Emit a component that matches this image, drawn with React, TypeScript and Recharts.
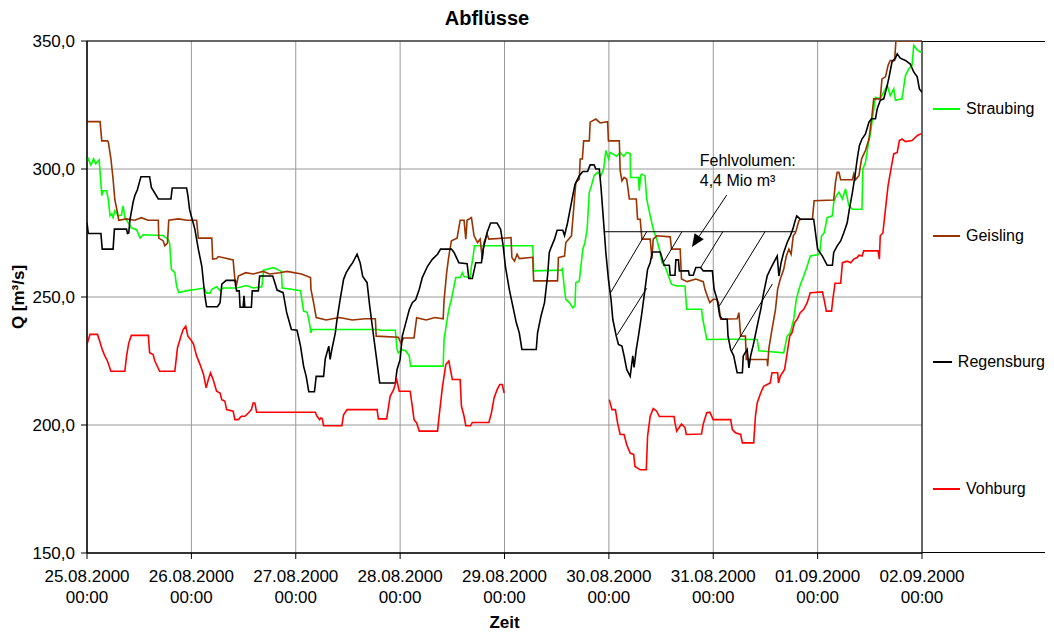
import {
  LineChart,
  Line,
  XAxis,
  YAxis,
  CartesianGrid,
  Legend,
  ReferenceLine,
  ReferenceArea,
  ReferenceDot,
} from "recharts";

const FONT = "'Liberation Sans', Arial, sans-serif";

// hours since 25.08.2000 00:00, discharge in m³/s
const straubing: [number, number][] = [
  [0, 303], [0.3, 304], [0.9, 301.5], [1.5, 304], [2.0, 302], [2.8, 303.5], [3.4, 289.6], [3.7, 291.5], [4.5, 291.5],
  [4.9, 288], [5.3, 281.7], [5.7, 282.5], [6.0, 281], [6.4, 283.7], [7.2, 281.7], [7.9, 282], [8.3, 285.6], [8.7, 281],
  [9.5, 279], [10.2, 277], [11.4, 276.3], [12.2, 273], [12.9, 274.3], [17.5, 274], [18.7, 272.5], [19.0, 271],
  [19.4, 260.8], [20.2, 259.5], [20.6, 254.3], [21.1, 251.7], [23, 252.5], [25.2, 253], [27.0, 253.5], [27.5, 251.5],
  [28.3, 251.5], [28.7, 253], [29.8, 254], [30.6, 252.5], [31.3, 253.5], [34.4, 253.5], [36.7, 254.5], [38.2, 253.5],
  [40.2, 254], [40.6, 260.5], [42.9, 261.5], [44.7, 260], [44.9, 253.5], [47, 253], [49.1, 252.5], [49.4, 249.1],
  [49.8, 244.5], [50.6, 244], [51.0, 241.3], [51.5, 236], [51.7, 237.3], [67.0, 237.3], [67.4, 237], [70.9, 237],
  [71.3, 229.5], [71.6, 228.2], [72.4, 229.5], [73.3, 228.9], [74.1, 227], [74.4, 223], [81.9, 223], [82.1, 233.4],
  [82.7, 240], [83.2, 245.2], [83.8, 249.1], [84.4, 254.3], [84.8, 257.6], [85.9, 257.6], [86.3, 259.5], [86.7, 258],
  [88.1, 257.6], [88.4, 262], [88.8, 266], [89.1, 270], [102.5, 270], [102.7, 260.2], [109.0, 260.5], [109.3, 261],
  [109.8, 253], [110.1, 249.1], [110.9, 247.8], [111.7, 245.8], [112.2, 246.5], [112.4, 255.6], [113.2, 256.3],
  [114.0, 268.7], [114.5, 271.3], [115.0, 276.5], [115.5, 290.9], [116.0, 293.5], [116.6, 297.4], [117.4, 298.7],
  [118.2, 297.4], [118.8, 300], [119.3, 307.2], [119.9, 304], [120.3, 306.5], [121.8, 305], [122.6, 306.5],
  [123.4, 305], [124.1, 306.5], [124.9, 306], [125.0, 296.7], [126.8, 296.7], [127.0, 291.5], [127.3, 297.5],
  [127.6, 298], [128.3, 297.4], [128.7, 288.3], [129.5, 281.7], [130.2, 276.5], [131.0, 272.6], [131.8, 267.4],
  [132.2, 263.4], [132.9, 262], [134.4, 255], [135.6, 254.3], [137.5, 254.3], [137.9, 245.2], [141.3, 245.2],
  [141.6, 241.3], [142.5, 233.4], [148, 233.5], [154.1, 233.4], [154.5, 229], [160.2, 228.2], [161.0, 234.7],
  [161.7, 236], [162.5, 241.3], [163.1, 249.1], [163.7, 253], [164.2, 255.6], [164.8, 258.2], [165.6, 262],
  [166.3, 266], [168.0, 266.5], [168.5, 267.4], [168.9, 273.9], [169.5, 275], [170.2, 281], [171.4, 281.7],
  [171.7, 286.9], [172.3, 289.6], [172.9, 290.9], [173.7, 288.3], [174.4, 292.2], [175.2, 285.6], [176.0, 284.3],
  [178.2, 284.3], [178.4, 300], [179.0, 302.6], [179.6, 309.1], [180.2, 314.4], [180.7, 320.9], [181.3, 328],
  [182.4, 327.4], [183.2, 330], [184.0, 332.6], [184.7, 328.7], [185.5, 331.3], [185.9, 326.8], [187.4, 327.4],
  [188.2, 336.6], [189.0, 339.2], [189.7, 340.5], [190.1, 348.3], [190.9, 346.5], [191.6, 345.7], [192, 346],
];

const geisling: [number, number][] = [
  [0, 318.5], [3.0, 318.5], [3.4, 311], [4.7, 311], [4.9, 310.5], [5.5, 304], [6.0, 296], [6.4, 288], [7.0, 283],
  [7.3, 280], [9, 280.5], [11, 280], [12.5, 281], [14, 280], [16.4, 280], [16.5, 273], [17.5, 272], [17.9, 270],
  [18.5, 271], [18.8, 280], [21, 280.5], [23, 280], [25.2, 280], [25.6, 273], [28.7, 273], [28.9, 264.8], [29.8, 265],
  [30.2, 265.8], [33.6, 264.5], [34.0, 257], [34.4, 255], [34.8, 258.2], [36.5, 259.5], [38.2, 259], [40.5, 260],
  [42, 259], [44.3, 259.5], [46, 260], [49.3, 259], [51.4, 257.6], [51.5, 253], [52.1, 247.8], [52.7, 242], [55, 241],
  [58, 242], [61, 241], [64, 241.5], [66.3, 241.5], [66.5, 234.7], [71.6, 234.3], [72.2, 232], [72.8, 234],
  [75.2, 234], [75.8, 241.9], [78, 241], [80, 242], [81.9, 241.5], [82.1, 248.7], [82.7, 259.5], [83.2, 266],
  [83.8, 272], [85.1, 273], [85.8, 280], [86.7, 280], [87.1, 272.6], [87.4, 280], [88.4, 281], [89.0, 273.9],
  [89.8, 271.3], [90.4, 272.6], [90.9, 264.8], [91.3, 271.3], [92.0, 274.5], [92.4, 272.6], [97.5, 273.2],
  [97.7, 265.4], [98.3, 264], [98.9, 266.7], [99.4, 265], [102.5, 265.5], [102.7, 256.3], [108.2, 256.3],
  [108.4, 265.4], [109.8, 266], [110.1, 271.3], [111.4, 273.9], [111.9, 284.3], [112.4, 294.8], [113.2, 296],
  [113.4, 303.9], [113.9, 303.9], [114.2, 311], [115.5, 311], [115.7, 318.3], [117, 319.5], [118, 318],
  [119.7, 318.5], [119.9, 311], [122.4, 311], [122.6, 299.3], [123.0, 295.4], [123.5, 296.7], [124.1, 296],
  [124.7, 288.3], [126.3, 288.3], [126.6, 280.4], [127.2, 280.4], [127.6, 272.6], [129.5, 272.6], [129.9, 265],
  [130.2, 272.6], [131.0, 273.9], [134.1, 273.5], [134.4, 268.7], [136.4, 268.7], [136.7, 257], [138, 256],
  [140, 257], [141.7, 256], [142.1, 253], [142.9, 249.1], [143.2, 247.8], [144.0, 249.1], [144.8, 249.1],
  [145.2, 247.8], [145.7, 241.3], [149.5, 241.5], [149.9, 243.9], [150.3, 234.7], [151.4, 234.7], [151.6, 225.6],
  [156.4, 225.6], [156.5, 223], [156.8, 230], [157.5, 237.3], [158.3, 245], [158.8, 253], [159.4, 256.9],
  [160.2, 260.8], [160.8, 266], [161.4, 268.7], [161.9, 266.7], [162.4, 273.9], [162.9, 275], [163.7, 279.8],
  [164.1, 280.4], [166.8, 280.4], [167.2, 287.6], [171.7, 287.9], [172.1, 294.8], [172.5, 298.7], [172.9, 298.7],
  [173.3, 295.8], [176.0, 295.8], [176.3, 298], [176.7, 295.8], [177.5, 297.4], [178.1, 303.9], [178.4, 305],
  [179.0, 307.2], [179.8, 311.7], [180.5, 320.9], [180.9, 327.4], [182.4, 327.4], [182.8, 335.2], [183.6, 336],
  [184.2, 340.5], [184.7, 342.4], [185.7, 342.4], [186.0, 350], [192, 350],
];

const regensburg: [number, number][] = [
  [0, 279], [0.3, 274.8], [3.2, 274.8], [3.5, 268.7], [6.0, 268.7], [6.3, 276.5], [9.1, 276.5], [9.3, 274.8],
  [9.6, 275], [9.9, 280.4], [10.6, 287], [11.0, 289.6], [11.6, 292], [12.4, 297], [14.4, 297], [14.8, 292.8],
  [16.4, 288.3], [19.3, 288.3], [19.6, 292.6], [22.9, 292.6], [23.2, 289.6], [23.6, 284], [24.4, 279], [24.8, 276.5],
  [25.6, 268.7], [26.4, 262], [27.1, 250.4], [27.5, 246.2], [30.0, 246.2], [30.6, 247.8], [31.0, 255], [32.0, 256.5],
  [34.0, 256.5], [34.4, 252.4], [35.0, 252.4], [35.2, 246], [35.9, 246], [36.1, 250.5], [36.3, 246], [37.8, 246],
  [38.0, 252.4], [39.4, 252.4], [39.7, 258.2], [42.7, 258.2], [43.2, 255.6], [43.7, 252.7], [45.1, 251.7],
  [45.9, 244], [47.0, 237.3], [48.3, 237], [49.1, 230.8], [49.8, 223], [50.4, 219], [51.0, 213], [52.3, 213],
  [52.7, 219], [54.4, 219], [54.8, 226], [55.6, 230.8], [55.9, 225.6], [56.3, 229.5], [57.1, 236], [57.5, 241.3],
  [58.2, 249], [59.0, 256.9], [59.6, 259.5], [60.5, 262], [61.1, 263.4], [62.1, 266.7], [62.8, 263.4], [63.4, 258],
  [64.4, 255.6], [65.0, 246.5], [65.7, 237.3], [66.3, 229.5], [66.8, 223], [67.3, 216.4], [70.9, 216.4],
  [71.3, 221.7], [72.0, 225.6], [72.5, 234.7], [73.3, 239.9], [74.1, 245], [74.8, 247.8], [75.6, 249], [76.4, 253],
  [77.1, 257.6], [78.3, 262], [79.4, 264.7], [80.6, 266.7], [81.3, 268.7], [83.8, 268.7], [84.4, 267.4],
  [85.5, 263.4], [87.4, 263], [87.8, 257.2], [88.6, 257.2], [89.4, 263.4], [90.7, 263.4], [91.1, 268.7],
  [92.0, 275.2], [92.8, 278.9], [94.3, 278.9], [95.1, 276.5], [95.7, 270], [96.2, 262], [97.1, 253], [97.9, 246.5],
  [98.7, 240], [99.4, 236], [100.0, 229.5], [103.3, 229.5], [103.6, 236], [104.4, 242.6], [105.2, 247.8],
  [105.9, 258.2], [106.3, 267.4], [106.7, 269.3], [107.5, 272.6], [108.1, 276.1], [109.4, 276.1], [109.8, 274],
  [110.5, 279], [111.1, 284.3], [111.7, 289.6], [112.2, 293.9], [113.2, 297.4], [114.0, 299], [115.1, 299],
  [115.7, 301.6], [116.6, 301.6], [117.0, 300], [117.8, 300], [118.2, 292.6], [118.8, 279], [119.3, 267.4],
  [119.9, 256.9], [120.5, 249], [120.9, 241.3], [121.7, 234.7], [122.2, 231.5], [123.0, 230.8], [123.5, 227],
  [124.1, 221.7], [124.9, 219], [125.5, 227], [125.8, 222.5], [126.3, 229.5], [126.8, 234.7], [127.6, 243.9],
  [128.3, 253], [128.9, 260.8], [129.5, 263.4], [130.0, 267.6], [131.8, 267.6], [132.2, 265.4], [132.7, 262.4],
  [133.9, 262.4], [134.1, 258.5], [135.2, 258.5], [135.4, 264.5], [136.0, 264.5], [136.2, 260.2], [138.3, 260.2],
  [138.5, 258.5], [139.4, 258.5], [140.0, 261.5], [141.1, 261.5], [141.7, 260.2], [143.8, 260.2], [144.2, 253],
  [144.9, 249], [145.5, 242.6], [146.1, 241.3], [147.2, 241.3], [147.4, 234.7], [148.0, 229.5], [148.7, 227],
  [149.5, 220.4], [150.7, 220.4], [150.9, 227], [151.8, 229.5], [152.2, 222.3], [152.6, 227], [153.3, 232],
  [154.1, 238.6], [154.9, 245], [155.6, 251.7], [156.4, 258.2], [157.1, 260.8], [157.9, 263.4], [158.7, 266],
  [159.1, 258.2], [159.6, 263.4], [160.2, 267.4], [161.0, 271.3], [161.7, 273.9], [162.3, 276.5], [162.7, 279],
  [163.2, 281.7], [164.0, 280.4], [167.1, 280.4], [167.4, 276.5], [168.0, 268.7], [169.1, 266], [170.2, 262.4],
  [171.4, 262.4], [171.7, 267.4], [172.5, 270], [173.3, 271.9], [174.0, 275], [174.8, 279], [175.3, 284.3],
  [176.0, 290.9], [176.6, 297.4], [177.1, 303.9], [177.6, 309.1], [178.2, 311.7], [179.0, 313.7], [179.8, 318.3],
  [180.4, 319.6], [181.3, 319.6], [181.7, 323.5], [182.4, 326.8], [183.2, 327.4], [184.0, 332.6], [184.5, 336.6],
  [185.1, 341.8], [185.9, 343.3], [186.3, 345], [187.0, 343.3], [188.2, 342.4], [189.3, 341], [190.1, 337.9],
  [190.9, 336], [191.4, 331.3], [192, 330],
];

// null = no measurements (gap between 29.08 and 30.08)
const vohburg: [number, number | null][] = [
  [0, 231.5], [0.7, 235.4], [2.4, 235.4], [3.0, 232.3], [3.5, 229.5], [4.1, 227], [4.7, 225], [5.5, 221], [8.7, 221],
  [9.1, 227], [9.6, 232], [10.2, 235], [14.1, 235], [14.4, 228.2], [15.2, 227.5], [15.6, 225], [16.7, 221],
  [20.2, 221], [20.8, 230.1], [21.6, 234.7], [22.1, 237.3], [22.7, 238.6], [23.2, 234.7], [24.0, 233], [24.5, 231.5],
  [25.2, 227], [26.0, 223.6], [26.8, 219.7], [27.4, 214.5], [27.9, 217.8], [28.4, 220.4], [29.0, 217.8],
  [29.8, 213.2], [30.6, 212.5], [31.0, 209.9], [31.7, 209.3], [32.1, 206], [33.6, 205.4], [34.0, 202.1],
  [34.8, 202.1], [35.5, 203.4], [36.3, 203.4], [37.1, 204.7], [37.8, 206], [38.2, 208.6], [38.6, 208.6], [39.0, 205],
  [52.5, 205], [52.9, 203.4], [53.5, 202.1], [53.8, 202.8], [54.1, 202.4], [54.4, 199.7], [58.6, 199.7], [59.0, 204],
  [59.8, 206], [66.7, 206], [67.0, 202.4], [68.9, 202.4], [69.7, 211.2], [70.5, 213.8], [71.2, 217.8], [71.8, 213.2],
  [74.3, 213.2], [74.8, 207.3], [75.2, 202.1], [75.8, 200.8], [76.4, 197.6], [80.6, 197.6], [81.0, 204],
  [81.7, 214.5], [82.5, 223.6], [83.2, 225], [84.0, 217.8], [85.8, 217.8], [86.1, 207.3], [86.7, 203.4],
  [87.1, 199.7], [88.2, 199.7], [88.6, 201], [92.4, 201], [93.0, 204.8], [93.6, 210.6], [94.3, 213.8],
  [94.9, 215.8], [95.5, 215.8], [95.9, 212.5], [96.5, null], [120.1, 209.9], [120.7, 206], [121.5, 206],
  [122.0, 200.8], [122.6, 196.3], [123.5, 196.3], [124.1, 192.3], [124.9, 189], [125.7, 188.5], [126.0, 183.8],
  [127.2, 182.5], [128.6, 182.5], [128.9, 195.6], [129.5, 203.4], [130.2, 206.4], [131.0, 205.4], [131.6, 203.3],
  [135.0, 203.3], [135.2, 200.8], [135.6, 197.6], [136.7, 200.4], [137.5, 199], [137.8, 196.3], [141.3, 196.5],
  [141.7, 200.4], [142.5, 204.8], [143.2, 205], [144.0, 202.1], [148.0, 202.1], [148.4, 198.2], [149.1, 197],
  [150.3, 196.3], [150.7, 193], [153.3, 193], [153.7, 203.4], [154.1, 208.6], [154.9, 212.5], [155.6, 215.1],
  [156.4, 215.8], [157.1, 216.4], [157.5, 220.4], [158.8, 220.4], [159.0, 216.4], [159.4, 219], [160.4, 221.7],
  [161.0, 228.2], [161.6, 234.7], [162.1, 236], [162.7, 240], [163.3, 241.3], [164.0, 243.9], [164.8, 245.2],
  [165.6, 247.8], [166.3, 251.7], [169.1, 252], [169.5, 249], [170.0, 244.5], [171.2, 244.5], [171.5, 249.1],
  [172.0, 255.4], [173.3, 255.4], [173.7, 263.4], [174.8, 264], [175.6, 263.4], [176.3, 264.8], [177.1, 265.4],
  [177.5, 266.3], [178.2, 266], [178.6, 268], [181.9, 268], [182.2, 264.8], [182.4, 273.9], [183.0, 275],
  [183.6, 284.3], [184.2, 293.5], [185.0, 301.3], [185.5, 305.9], [186.3, 306.5], [186.8, 311.1], [187.4, 311.7],
  [188.2, 310.7], [189.7, 311.1], [190.9, 313], [191.6, 313.7], [192, 313.7],
];

const series = [
  { name: "Straubing", color: "#00FF00", values: straubing },
  { name: "Geisling", color: "#993300", values: geisling },
  { name: "Regensburg", color: "#000000", values: regensburg },
  { name: "Vohburg", color: "#FF0000", values: vohburg },
];

const xTicks = [0, 24, 48, 72, 96, 120, 144, 168, 192];
const dateLabels = [
  "25.08.2000", "26.08.2000", "27.08.2000", "28.08.2000", "29.08.2000",
  "30.08.2000", "31.08.2000", "01.09.2000", "02.09.2000",
];
const timeLabel = "00:00";
const yTicks = [150, 200, 250, 300, 350];

// "Fehlvolumen" annotation (hours / m³/s)
const fillLevel = 275.5;
const fillSpan = [119.1, 162.8];
const hatchLines = [
  [128.7, 275.5, 120.4, 251.7],
  [136.8, 275.5, 132.6, 263.7],
  [128.7, 253.4, 121.9, 235.2],
  [146.2, 275.5, 141.1, 261.5],
  [155.9, 275.5, 145.4, 246.5],
  [157.6, 255.1, 148.2, 228.9],
];
const arrow = [147.1, 289.8, 139.1, 269.5];
const noteAt = [140.9, 301];
const noteLines = ["Fehlvolumen:", "4,4 Mio m³"];

const toRows = (vals: [number, number | null][]) => vals.map(([t, v]) => ({ t, v }));

const fmtY = (v: number) => v.toFixed(1).replace(".", ",");

function DateTick(props: any) {
  const { x, y, payload } = props;
  const i = Math.round(payload.value / 24);
  return (
    <text x={x} y={y} textAnchor="middle" fontSize={17} fontFamily={FONT} fill="#000">
      <tspan x={x} dy={21}>{dateLabels[i]}</tspan>
      <tspan x={x} dy={21}>{timeLabel}</tspan>
    </text>
  );
}

function ArrowShape(props: any) {
  const { x1, y1, x2, y2 } = props;
  const len = Math.hypot(x2 - x1, y2 - y1) || 1;
  const ux = (x2 - x1) / len;
  const uy = (y2 - y1) / len;
  const bx = x2 - ux * 13;
  const by = y2 - uy * 13;
  const px = -uy * 5.5;
  const py = ux * 5.5;
  return (
    <g>
      <line x1={x1} y1={y1} x2={bx} y2={by} stroke="#000" strokeWidth={1} />
      <polygon points={`${x2},${y2} ${bx + px},${by + py} ${bx - px},${by - py}`} fill="#000" />
    </g>
  );
}

function NoteShape(props: any) {
  const { cx, cy } = props;
  return (
    <text x={cx} y={cy} fontSize={16} fontFamily={FONT} fill="#000">
      <tspan x={cx} dy={0}>{noteLines[0]}</tspan>
      <tspan x={cx} dy={20}>{noteLines[1]}</tspan>
    </text>
  );
}

function LegendBox() {
  return (
    <div
      style={{
        width: 123,
        height: 512,
        boxSizing: "border-box",
        borderTop: "1px solid #000",
        borderBottom: "1px solid #000",
        paddingTop: 4,
        display: "flex",
        flexDirection: "column",
        justifyContent: "space-around",
        fontFamily: FONT,
        fontSize: 16,
        color: "#000",
      }}
    >
      {series.map((s) => (
        <div key={s.name} style={{ display: "flex", alignItems: "center", height: 20 }}>
          <span style={{ display: "inline-block", width: 27, marginLeft: 11, marginRight: 6, borderTop: `2px solid ${s.color}` }} />
          <span>{s.name}</span>
        </div>
      ))}
    </div>
  );
}

export default function App() {
  return (
    <div style={{ position: "absolute", left: 0, top: 0, width: 1054, height: 633, background: "#fff" }}>
      <div
        style={{
          position: "absolute",
          left: 0,
          top: 6,
          width: 974,
          textAlign: "center",
          fontFamily: FONT,
          fontSize: 20,
          fontWeight: "bold",
          lineHeight: "24px",
        }}
      >
        Abflüsse
      </div>
      <LineChart width={1054} height={633} margin={{ top: 41, right: 132, bottom: 0, left: 0 }}>
        <CartesianGrid stroke="#999" strokeWidth={1} />
        <XAxis
          type="number"
          dataKey="t"
          domain={[0, 192]}
          ticks={xTicks}
          allowDataOverflow
          height={80}
          tick={<DateTick />}
          tickSize={6}
          tickMargin={2}
          stroke="#000"
          interval={0}
          label={() => (
            <text x={504.5} y={628} textAnchor="middle" fontSize={17} fontWeight="bold" fontFamily={FONT} fill="#000">
              Zeit
            </text>
          )}
        />
        <YAxis
          type="number"
          domain={[150, 350]}
          ticks={yTicks}
          allowDataOverflow
          width={87}
          tickFormatter={fmtY}
          tick={{ fontSize: 17, fontFamily: FONT, fill: "#000" }}
          tickSize={6}
          tickMargin={6}
          stroke="#000"
          interval={0}
          label={() => (
            <text
              x={24}
              y={297}
              transform="rotate(-90 24 297)"
              textAnchor="middle"
              fontSize={17}
              fontWeight="bold"
              fontFamily={FONT}
              fill="#000"
            >
              Q [m³/s]
            </text>
          )}
        />
        {series.map((s) => (
          <Line
            key={s.name}
            data={toRows(s.values)}
            dataKey="v"
            name={s.name}
            type="linear"
            stroke={s.color}
            strokeWidth={1.6}
            dot={false}
            activeDot={false}
            connectNulls={false}
            isAnimationActive={false}
          />
        ))}
        <ReferenceLine
          segment={[{ x: fillSpan[0], y: fillLevel }, { x: fillSpan[1], y: fillLevel }]}
          stroke="#000"
          strokeWidth={1}
        />
        {hatchLines.map((h, i) => (
          <ReferenceLine
            key={`h${i}`}
            segment={[{ x: h[0], y: h[1] }, { x: h[2], y: h[3] }]}
            stroke="#000"
            strokeWidth={1}
          />
        ))}
        <ReferenceLine
          segment={[{ x: arrow[0], y: arrow[1] }, { x: arrow[2], y: arrow[3] }]}
          shape={<ArrowShape />}
        />
        <ReferenceDot x={noteAt[0]} y={noteAt[1]} r={0} shape={<NoteShape />} />
        <ReferenceArea x1={0} x2={192} y1={150} y2={350} fill="none" stroke="#000" strokeWidth={1} ifOverflow="visible" />
        <Legend
          layout="vertical"
          align="center"
          verticalAlign="middle"
          wrapperStyle={{ position: "absolute", left: 922, top: 41, width: 123, height: 512 }}
          content={() => <LegendBox />}
        />
      </LineChart>
    </div>
  );
}
